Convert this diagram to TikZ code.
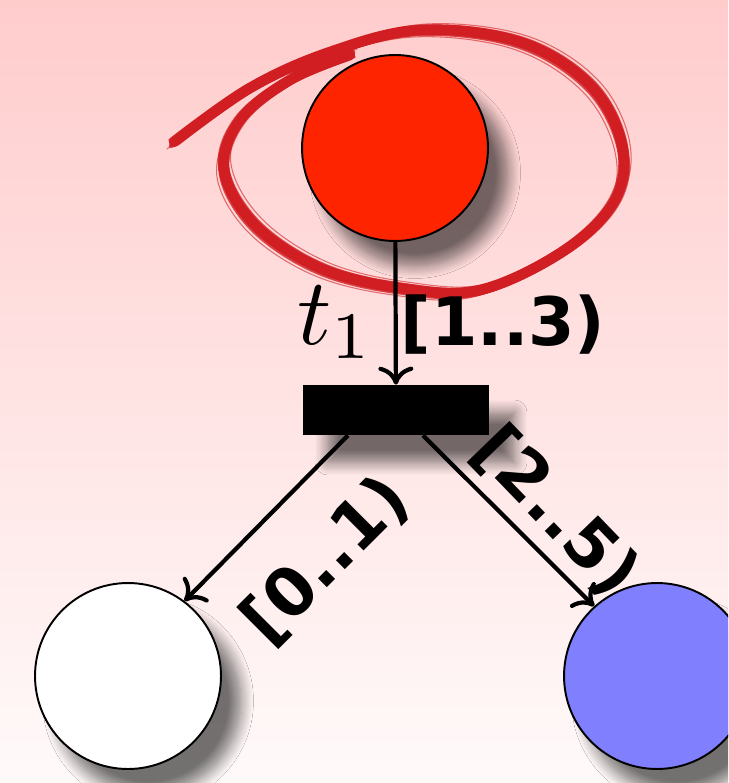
\documentclass[tikz,border=0pt]{standalone}
\usepackage{fontspec}
\usepackage{tikz}
\usetikzlibrary{arrows.meta,shadows.blur}
\newfontfamily\labelfont{DejaVu Sans}
\definecolor{bgtop}{RGB}{255,204,204}
\definecolor{bgbottom}{RGB}{255,250,250}
\definecolor{placered}{RGB}{255,36,0}
\definecolor{placeblue}{RGB}{128,128,255}
\definecolor{scribblered}{RGB}{208,30,34}

\begin{document}
\begin{tikzpicture}[
  x=0.02cm, y=-0.02cm,
  place/.style={draw, circle, line width=1.1pt, minimum size=3.72cm, inner sep=0pt,
                blur shadow={shadow xshift=0.4cm, shadow yshift=-0.5cm,
                             shadow blur radius=0.25cm, shadow blur steps=12,
                             shadow opacity=55}},
  trans/.style={fill=black, minimum width=3.74cm, minimum height=1cm, inner sep=0pt,
                blur shadow={shadow xshift=0.5cm, shadow yshift=-0.55cm,
                             shadow blur radius=0.25cm, shadow blur steps=12,
                             shadow opacity=55}},
  arc/.style={-{To[length=3.6mm,width=7mm]}, line width=2.4pt},
  interval/.style={font=\labelfont\bfseries\fontsize{38}{40}\selectfont, inner sep=0pt},
  scribble/.style={scribblered, line cap=round, line join=round}
]

\useasboundingbox (0,0) rectangle (728,783);
\clip (0,0) rectangle (728,783);
\shade[top color=bgtop, bottom color=bgbottom] (0,0) rectangle (728,783);

% places and transition
\node[place, fill=placered] (p1) at (395,148) {};
\node[trans] (t) at (396,410) {};
\node[place, fill=white] (p2) at (128,676) {};
\node[place, fill=placeblue] (p3) at (657,676) {};

% hand drawn highlight round p1
\foreach \dx/\dy/\w/\o in {0/0/6pt/1, 3/-3/2.5pt/0.8, -3/4/2.5pt/0.8, 5/2/1pt/0.7,
                           -5/-2/1pt/0.7, 7/-6/0.6pt/0.6, -7/7/0.6pt/0.6}{
  \draw[scribble, line width=\w, opacity=\o, shift={(\dx,\dy)}]
    plot[smooth, tension=0.6] coordinates {(174,142) (250,88) (330,52) (420,30) (520,42)
      (590,85) (622,145) (615,200) (565,250) (480,290) (400,288) (320,268) (255,225)
      (224,170) (240,120) (290,80) (350,55)};
}

% arcs
\draw[arc] (p1) -- (t);
\draw[arc] ([xshift=-0.96cm]t.south) -- (p2.53);
\draw[arc] ([xshift=0.54cm]t.south) -- (p3.132);

% labels
\node at (336,322) {\scalebox{5.4}{$t_1$}};
\node[interval] at (503,325) {[1..3)};
\node[interval, rotate=45] at (326,560) {[0..1)};
\node[interval, rotate=-46] at (556,512) {[2..5)};

\end{tikzpicture}
\end{document}
